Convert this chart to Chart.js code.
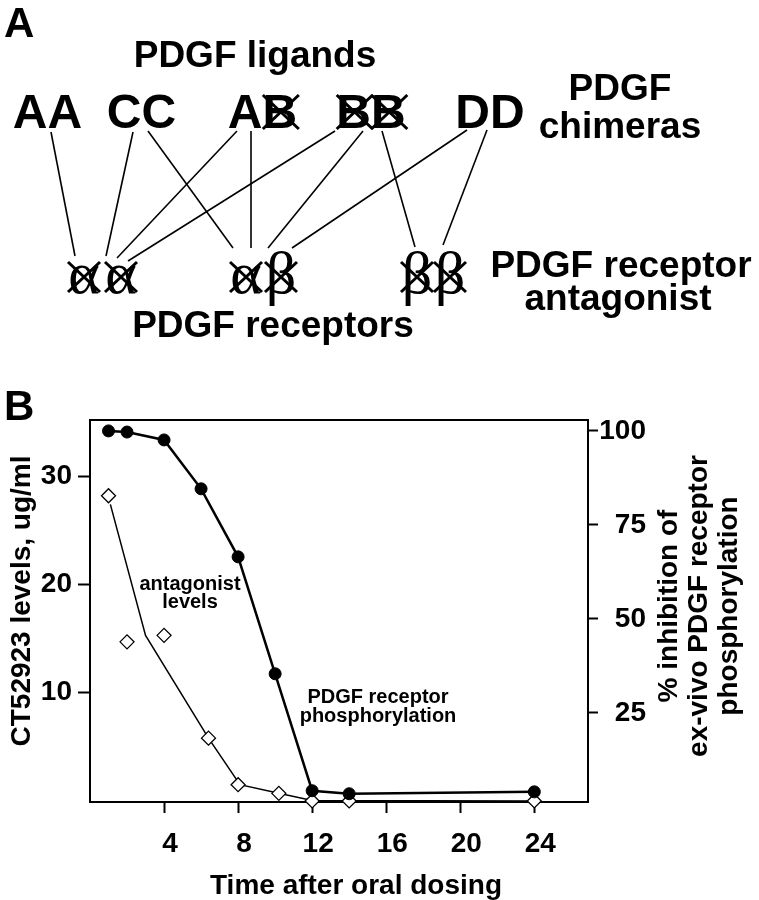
<!DOCTYPE html>
<html><head><meta charset="utf-8">
<script src="https://cdn.jsdelivr.net/npm/chart.js@4.4.1/dist/chart.umd.min.js"></script>
<style>
html,body{margin:0;padding:0;background:#fff;width:759px;height:900px;overflow:hidden}
#ca{position:absolute;left:0;top:0}
#cb{position:absolute;left:0;top:360px}
</style></head><body>
<canvas id="ca" width="759" height="360"></canvas>
<canvas id="cb" width="759" height="540"></canvas>
<script>
// ================= Panel B data =================
const timeHours       = [1, 2, 4, 6, 8, 10, 12, 14, 24];
const inhibitionPct   = [100, 99.7, 97.6, 84.6, 66.5, 35.4, 4.3, 3.5, 4.0];
const antagonistTime  = [1, 2, 4, 6.4, 8, 10.2, 12, 14, 24];
const antagonistLevel = [28.2, 14.7, 15.3, 5.8, 1.5, 0.7, 0, 0, 0];
const fitTime         = [1.1, 3, 6.4, 8.1, 10.2, 12, 24];
const fitLevel        = [27.4, 15.3, 5.8, 1.5, 0.7, 0.05, 0];
const xTicks     = [4, 8, 12, 16, 20, 24];
const leftTicks  = [10, 20, 30];
const rightTicks = [25, 50, 75, 100];

// ================= Panel A data =================
const ligands   = ['AA', 'CC', 'AB', 'BB', 'DD'];
const receptors = [['α', 'α'], ['α', 'β'], ['β', 'β']];
const links     = [[0,0],[1,0],[1,1],[2,0],[2,1],[3,0],[3,1],[3,2],[4,1],[4,2]];
const crossedLigandLetters = [[2,1],[3,0],[3,1]];

// ================= Panel A layout (diagram units) =================
const ligandX     = [47.5, 141.5, 262.5, 371, 490];
const ligandBase  = 128;
const receptorX   = [104, 264, 433];
const receptorGlyphDx = [[-20, 17], [-18, 17], [-16, 17]];
const receptorBase = 293;
const linkFromDx  = [3.5, -8.5, 6.5, -25.5, -11.5, -36, -8, 11, -23, -3];
const linkFromY   = [132, 132, 131, 131, 131, 131, 131, 131, 130, 130];
const linkToDx    = [-29, 2, -31, 13, -13, 24, 4, -18, 28, 10];
const linkToY     = [256, 256, 248, 258, 248, 261, 248, 247, 248, 245];

const SANS  = '"Liberation Sans", Arial, Helvetica, sans-serif';
const SERIF = '"Liberation Serif", "Times New Roman", serif';
Chart.defaults.font.family = SANS;
Chart.defaults.color = '#000';

function drawText(ctx, s, x, y, size, align, family, weight) {
  ctx.save();
  ctx.font = (weight || 'bold') + ' ' + size + 'px ' + (family || SANS);
  ctx.fillStyle = '#000';
  ctx.textAlign = align || 'center';
  ctx.textBaseline = 'alphabetic';
  ctx.fillText(s, x, y);
  ctx.restore();
}
function drawCross(ctx, cx, cy, hw, hh, lw) {
  ctx.save();
  ctx.strokeStyle = '#000';
  ctx.lineWidth = lw;
  ctx.beginPath();
  ctx.moveTo(cx - hw, cy - hh); ctx.lineTo(cx + hw, cy + hh);
  ctx.moveTo(cx + hw, cy - hh); ctx.lineTo(cx - hw, cy + hh);
  ctx.stroke();
  ctx.restore();
}

const panelAText = {
  id: 'panelAText',
  afterDatasetsDraw(chart) {
    const ctx = chart.ctx, sx = chart.scales.x, sy = chart.scales.y;
    const X = v => sx.getPixelForValue(v), Y = v => sy.getPixelForValue(v);
    drawText(ctx, 'A', X(4), Y(37), 42, 'left');
    drawText(ctx, 'PDGF ligands', X(255), Y(67), 37);
    drawText(ctx, 'PDGF', X(620), Y(100), 37);
    drawText(ctx, 'chimeras', X(620), Y(138), 37);
    drawText(ctx, 'PDGF receptor', X(621), Y(277), 37);
    drawText(ctx, 'antagonist', X(618), Y(310), 37);
    drawText(ctx, 'PDGF receptors', X(273), Y(337), 37);
    // ligands
    ctx.save();
    ctx.font = 'bold 48px ' + SANS;
    ligands.forEach((s, i) => {
      drawText(ctx, s, X(ligandX[i]), Y(ligandBase), 48);
    });
    crossedLigandLetters.forEach(([li, k]) => {
      const s = ligands[li];
      const w = ctx.measureText(s).width;
      const left = X(ligandX[li]) - w / 2;
      const cx = left + ctx.measureText(s.slice(0, k)).width + ctx.measureText(s[k]).width / 2;
      drawCross(ctx, cx + 1, Y(ligandBase - 16), 18, 17, 3);
    });
    ctx.restore();
    // receptors
    receptors.forEach((pair, r) => {
      pair.forEach((g, k) => {
        const cx = X(receptorX[r] + receptorGlyphDx[r][k]);
        drawText(ctx, g, cx, Y(receptorBase), 60, 'center', SERIF, 'normal');
        drawCross(ctx, cx, Y(receptorBase - 16), 16, 15, 3);
      });
    });
  }
};

new Chart(document.getElementById('ca'), {
  type: 'scatter',
  data: {
    datasets: links.map((lk, i) => ({
      data: [
        { x: ligandX[lk[0]] + linkFromDx[i], y: linkFromY[i] },
        { x: receptorX[lk[1]] + linkToDx[i], y: linkToY[i] }
      ],
      showLine: true, borderColor: '#000', borderWidth: 1.6,
      pointRadius: 0, clip: false
    }))
  },
  options: {
    responsive: false, animation: false, events: [],
    layout: { padding: 0 },
    plugins: { legend: { display: false }, tooltip: { enabled: false } },
    scales: {
      x: { type: 'linear', min: 0, max: 759, display: false },
      y: { type: 'linear', min: 0, max: 360, reverse: true, display: false }
    }
  },
  plugins: [panelAText]
});

// ================= Panel B =================
const tickFont = { family: SANS, size: 28, weight: 'bold' };
const axisGrid = (len) => ({ display: true, drawOnChartArea: false, drawTicks: true,
  tickLength: len, tickWidth: 2, tickColor: '#000' });
const axisBorder = { display: true, color: '#000', width: 2 };

const panelBText = {
  id: 'panelBText',
  afterDraw(chart) {
    const ctx = chart.ctx, a = chart.chartArea;
    ctx.save();
    ctx.strokeStyle = '#000'; ctx.lineWidth = 2;
    ctx.beginPath(); ctx.moveTo(a.left - 1, a.top); ctx.lineTo(a.right + 1, a.top); ctx.stroke();
    ctx.restore();
    drawText(ctx, 'B', 4, 60, 42, 'left');
    drawText(ctx, 'Time after oral dosing', 356, 534, 28);
    ctx.save(); ctx.translate(30, 241); ctx.rotate(-Math.PI / 2);
    drawText(ctx, 'CT52923 levels, ug/ml', 0, 0, 28); ctx.restore();
    const rl = ['% inhibition of', 'ex-vivo PDGF receptor', 'phosphorylation'];
    const rx = [677, 707, 737];
    rl.forEach((s, i) => {
      ctx.save(); ctx.translate(rx[i], 246); ctx.rotate(-Math.PI / 2);
      drawText(ctx, s, 0, 0, 28); ctx.restore();
    });
    drawText(ctx, 'antagonist', 190, 230, 20);
    drawText(ctx, 'levels', 190, 248, 20);
    drawText(ctx, 'PDGF receptor', 378, 343, 20);
    drawText(ctx, 'phosphorylation', 378, 362, 20);
  }
};

new Chart(document.getElementById('cb'), {
  type: 'scatter',
  data: {
    datasets: [
      { label: 'PDGF receptor phosphorylation',
        data: timeHours.map((t, i) => ({ x: t, y: inhibitionPct[i] })),
        yAxisID: 'y2', showLine: true, borderColor: '#000', borderWidth: 2.5,
        pointRadius: 6, pointBorderWidth: 1, pointBackgroundColor: '#000',
        pointBorderColor: '#000', clip: false },
      { label: 'antagonist levels',
        data: antagonistTime.map((t, i) => ({ x: t, y: antagonistLevel[i] })),
        yAxisID: 'y', showLine: false, pointStyle: 'rectRot', pointRadius: 7,
        pointBorderWidth: 1.3, pointBackgroundColor: '#fff', pointBorderColor: '#000',
        clip: false },
      { label: 'antagonist fit',
        data: fitTime.map((t, i) => ({ x: t, y: fitLevel[i] })),
        yAxisID: 'y', showLine: true, borderColor: '#000', borderWidth: 1.5,
        pointRadius: 0, clip: false }
    ]
  },
  options: {
    responsive: false, animation: false, events: [],
    layout: { padding: { top: 60, right: 113, left: 0, bottom: 0 } },
    plugins: { legend: { display: false }, tooltip: { enabled: false } },
    scales: {
      x: { type: 'linear', position: 'bottom', min: 0, max: 26.9,
        afterBuildTicks: s => { s.ticks = xTicks.map(v => ({ value: v })); },
        afterFit: s => { s.height = 98; },
        grid: axisGrid(11), border: axisBorder,
        ticks: { font: tickFont, color: '#000', padding: 14, labelOffset: 6,
                 maxRotation: 0, autoSkip: false } },
      y: { type: 'linear', position: 'left', min: -0.1, max: 35.2,
        afterBuildTicks: s => { s.ticks = leftTicks.map(v => ({ value: v })); },
        afterFit: s => { s.width = 90; },
        grid: axisGrid(12), border: axisBorder,
        ticks: { font: tickFont, color: '#000', padding: 6 } },
      y2: { type: 'linear', position: 'right', min: 1.3, max: 102.9,
        afterBuildTicks: s => { s.ticks = rightTicks.map(v => ({ value: v })); },
        afterFit: s => { s.width = 58; },
        grid: axisGrid(10), border: axisBorder,
        ticks: { font: tickFont, color: '#000', padding: 4, crossAlign: 'far' } }
    }
  },
  plugins: [panelBText]
});
</script>
</body></html>
